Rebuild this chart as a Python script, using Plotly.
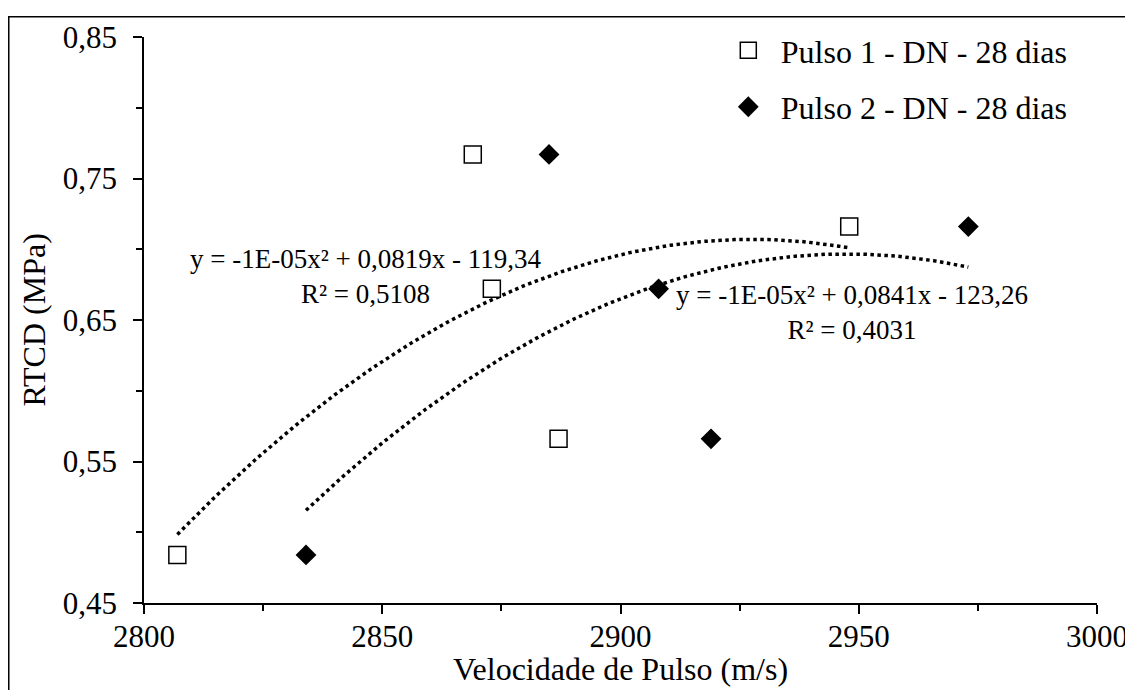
import numpy as np
import plotly.graph_objects as go

# dados
vel_p1 = [2807, 2869, 2873, 2887, 2948]
rtcd_p1 = [0.484, 0.767, 0.672, 0.566, 0.716]
vel_p2 = [2834, 2885, 2908, 2919, 2973]
rtcd_p2 = [0.484, 0.767, 0.672, 0.566, 0.716]

nome_p1 = "Pulso 1 - DN - 28 dias"
nome_p2 = "Pulso 2 - DN - 28 dias"
eq_p1 = "y = -1E-05x² + 0,0819x - 119,34<br>R² = 0,5108"
eq_p2 = "y = -1E-05x² + 0,0841x - 123,26<br>R² = 0,4031"
titulo_x = "Velocidade de Pulso (m/s)"
titulo_y = "RTCD (MPa)"

FONT = "Liberation Serif, Times New Roman, serif"


def trend(xs, ys):
    coef = np.polyfit(xs, ys, 2)
    xx = np.linspace(min(xs), max(xs), 200)
    return xx, np.polyval(coef, xx)


fig = go.Figure()

t1x, t1y = trend(vel_p1, rtcd_p1)
t2x, t2y = trend(vel_p2, rtcd_p2)
for tx, ty in [(t1x, t1y), (t2x, t2y)]:
    fig.add_trace(go.Scatter(x=tx, y=ty, mode="lines", showlegend=False, hoverinfo="skip",
                             line=dict(color="black", width=3.5, dash="3.5px,3.5px")))

fig.add_trace(go.Scatter(x=vel_p1, y=rtcd_p1, mode="markers", name=nome_p1, legendgroup="a",
                         marker=dict(symbol="square", size=17, color="white",
                                     line=dict(color="black", width=1.5))))
fig.add_trace(go.Scatter(x=vel_p2, y=rtcd_p2, mode="markers", name=nome_p2, legendgroup="b",
                         marker=dict(symbol="diamond", size=16, color="black",
                                     line=dict(color="black", width=0))))

fig.add_annotation(x=2846.5, y=0.681, xref="x", yref="y", text=eq_p1, showarrow=False,
                   align="center", font=dict(family=FONT, size=27, color="black"))
fig.add_annotation(x=2948.5, y=0.655, xref="x", yref="y", text=eq_p2, showarrow=False,
                   align="center", font=dict(family=FONT, size=27, color="black"))

# títulos dos eixos
fig.add_annotation(x=0.5, y=-0.117, xref="paper", yref="paper", text=titulo_x, showarrow=False,
                   xanchor="center", yanchor="middle", font=dict(family=FONT, size=32, color="black"))
fig.add_annotation(x=-0.115, y=0.5, xref="paper", yref="paper", text=titulo_y, showarrow=False,
                   textangle=-90, xanchor="center", yanchor="middle",
                   font=dict(family=FONT, size=32, color="black"))

# moldura da figura
fig.add_shape(type="rect", xref="paper", yref="paper", x0=-0.1419, x1=1.06, y0=-0.2, y1=1.0358,
              line=dict(color="black", width=1.5), layer="below")

fig.update_xaxes(range=[2800, 3000], dtick=50, tick0=2800, showgrid=False, zeroline=False,
                 showline=True, linecolor="black", linewidth=1.5, ticks="outside", ticklen=9,
                 tickwidth=1.5, tickcolor="black", ticklabelstandoff=-4,
                 minor=dict(dtick=25, ticks="outside", ticklen=6, tickwidth=1.5, tickcolor="black"),
                 tickfont=dict(family=FONT, size=31, color="black"))
fig.update_yaxes(range=[0.45, 0.85], dtick=0.1, tick0=0.45, tickformat=".2f", showgrid=False,
                 zeroline=False, showline=True, linecolor="black", linewidth=1.5, ticks="outside",
                 ticklen=9, tickwidth=1.5, tickcolor="black", ticklabelstandoff=10,
                 minor=dict(dtick=0.05, ticks="outside", ticklen=6, tickwidth=1.5, tickcolor="black"),
                 tickfont=dict(family=FONT, size=31, color="black"))

fig.update_layout(
    width=1133, height=690,
    margin=dict(l=136, r=44, t=22, b=95),
    paper_bgcolor="white", plot_bgcolor="white",
    separators=", ",
    legend=dict(x=0.6, y=1.025, xanchor="left", yanchor="top", bgcolor="rgba(0,0,0,0)",
                traceorder="grouped", tracegroupgap=12, itemwidth=55,
                font=dict(family=FONT, size=32, color="black")),
)

fig.write_html("out.html")
